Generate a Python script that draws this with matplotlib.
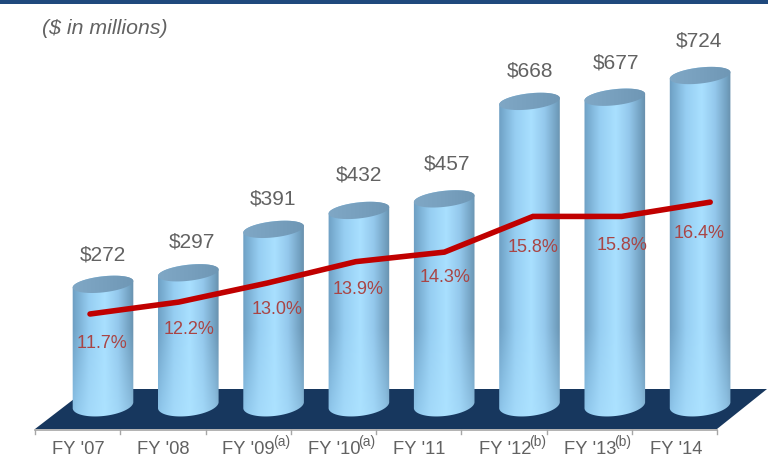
import numpy as np
import matplotlib
matplotlib.use('Agg')
import matplotlib.pyplot as plt
from matplotlib.path import Path
from matplotlib.patches import Polygon
from matplotlib.transforms import IdentityTransform

# Values
years = ["FY '07", "FY '08", "FY '09", "FY '10", "FY '11", "FY '12", "FY '13", "FY '14"]
notes = ['', '', '(a)', '(a)', '', '(b)', '(b)', '']
ebitda = [272, 297, 391, 432, 457, 668, 677, 724]
margin = [11.7, 12.2, 13.0, 13.9, 14.3, 15.8, 15.8, 16.4]

W, H = 768, 459
plt.rcParams['font.family'] = ['Liberation Sans', 'DejaVu Sans']
plt.rcParams['text.kerning_factor'] = 10
pix = IdentityTransform()
GRAY = '#626262'
RED_TXT = '#a94545'


def P(x, y):
    # image pixels (y down) to display pixels
    return (x, H - y)


fig = plt.figure(figsize=(W / 100, H / 100), dpi=100)

# bars axis: position 0 at x=103px, step 85.3px; value 0 at y=410px, 0.462px per $m
ax = fig.add_axes([0, 0, 1, 1])
ax.set_xlim(-103 / 85.3, (W - 103) / 85.3)
ax.set_ylim(-(H - 410) / 0.462, 410 / 0.462)
ax.axis('off')

# line axis has its own scale, the line is spread a bit wider than the bars
ax2 = fig.add_axes([0, 0, 1, 1])
ax2.set_xlim(-90 / 88.6, (W - 90) / 88.6)
ax2.set_ylim(11.7 - (H - 314) / 23.8, 11.7 + 314 / 23.8)
ax2.axis('off')
ax2.patch.set_alpha(0)

# top stripe
fig.patches.append(Polygon([P(0, 0), P(W, 0), P(W, 3.5), P(0, 3.5)], closed=True,
                           fc='#1f497d', ec='none', transform=pix, figure=fig))

# floor
ax.add_patch(Polygon([P(35, 429), P(87, 389), P(767, 389), P(717, 429)], closed=True,
                     fc='#17375e', ec='none', transform=pix, zorder=1))
ax.plot([35, 717], [H - 430, H - 430], color='#a6a6a6', lw=1.2, transform=pix, zorder=1)
for k in range(len(years) + 1):
    tx = 35 + k * 85.25
    ax.plot([tx, tx], [H - 430, H - 434], color='#a6a6a6', lw=1.0, transform=pix, zorder=1)

# horizontal shading of the cylinders, then lighter towards the floor
stops = [0, 0.10, 0.28, 0.52, 0.72, 0.90, 1]
side = np.array([[0x68, 0x98, 0xbc], [0x78, 0xac, 0xd0], [0x96, 0xce, 0xf2], [0xa9, 0xe0, 0xff],
                 [0x94, 0xc8, 0xec], [0x72, 0xa0, 0xc0], [0x62, 0x86, 0xa0]]) / 255
low = np.array([[0x88, 0xbe, 0xe4], [0x94, 0xcc, 0xf0], [0xa4, 0xda, 0xfa], [0xac, 0xe2, 0xff],
                [0xa2, 0xd8, 0xf8], [0x90, 0xc4, 0xe6], [0x80, 0xae, 0xce]]) / 255
lid = np.array([[0x80, 0xa8, 0xc6], [0x78, 0xa0, 0xbe], [0x6e, 0x96, 0xb4]]) / 255

RX = 30.5
LID_RY = 8
BASE_RY = 11
tilt = np.deg2rad(6.5)


def ellipse(cx, cy, ry, a0=0, a1=2 * np.pi, n=60):
    tt = np.linspace(a0, a1, n)
    ex = RX * np.cos(tt)
    ey = ry * np.sin(tt)
    return np.column_stack([cx + ex * np.cos(tilt) - ey * np.sin(tilt),
                            cy + ex * np.sin(tilt) + ey * np.cos(tilt)])


u = np.linspace(0, 1, 60)
for i, v in enumerate(ebitda):
    cx, top = ax.transData.transform((i, v))
    _, base = ax.transData.transform((i, 0))
    base += 5
    # body: lower half of the base ellipse and upper half of the lid
    outline = np.vstack([ellipse(cx, base, BASE_RY, np.pi, 2 * np.pi), ellipse(cx, top, LID_RY, 0, np.pi)])
    clip = Path(np.vstack([outline, outline[:1]]), closed=True)

    rows = 100
    x0, y0 = ax.transData.inverted().transform((cx - RX - 3, base - 14))
    x1, y1 = ax.transData.inverted().transform((cx + RX + 3, top + 14))
    # only the lowest 90 px or so get lighter
    mix = np.clip(1 - np.linspace(0, 1, rows) * (top - base + 28) / 90, 0, 1)
    img = np.zeros((rows, len(u), 3))
    for c in range(3):
        a = np.interp(u, stops, side[:, c])
        b = np.interp(u, stops, low[:, c])
        img[:, :, c] = np.outer(mix, b) + np.outer(1 - mix, a)
    im = ax.imshow(img, extent=(x0, x1, y0, y1), origin='lower', aspect='auto',
                   interpolation='bilinear', zorder=2)
    im.set_clip_path(clip, transform=pix)

    # lid
    lid_pts = ellipse(cx, top, LID_RY)
    lid_clip = Path(np.vstack([lid_pts, lid_pts[:1]]), closed=True)
    lid_img = np.stack([np.interp(u, [0, 0.5, 1], lid[:, c]) for c in range(3)], axis=1)[None, :, :]
    im2 = ax.imshow(lid_img, extent=(x0, x1, y0, y1), origin='lower', aspect='auto', zorder=3)
    im2.set_clip_path(lid_clip, transform=pix)
ax.set_xlim(-103 / 85.3, (W - 103) / 85.3)
ax.set_ylim(-(H - 410) / 0.462, 410 / 0.462)

# margin line
ax2.plot(range(len(margin)), margin, color='#c00000', lw=4,
         solid_capstyle='round', solid_joinstyle='miter', zorder=5)

# text, layout in image pixels
value_xy = [(103, 255), (192, 242), (273, 199), (359, 175), (447, 164), (530, 71), (616, 63), (699, 41)]
pct_xy = [(102, 343), (189, 330), (277, 310), (358, 290), (445, 278), (533, 248), (622, 246), (699, 233)]
for v, (x, y) in zip(ebitda, value_xy):
    fig.text(*P(x, y), f'${v}', transform=pix, fontsize=15, color=GRAY, ha='center', va='center', zorder=6)
for m, (x, y) in zip(margin, pct_xy):
    fig.text(*P(x, y), f'{m:.1f}%', transform=pix, fontsize=13, color=RED_TXT, ha='center', va='center', zorder=6)
for k, (name, note) in enumerate(zip(years, notes)):
    x = 78 + k * 85.4
    fig.text(*P(x, 450), name, transform=pix, fontsize=13.2, color=GRAY, ha='center', va='center', zorder=6)
    if note:
        fig.text(*P(x + 24, 442), note, transform=pix, fontsize=10, color=GRAY, ha='left', va='center', zorder=6)

fig.text(*P(42, 28), '($ in millions)', transform=pix, fontsize=15.3, style='italic', color=GRAY,
         ha='left', va='center')

fig.savefig('out.png', dpi=100)
